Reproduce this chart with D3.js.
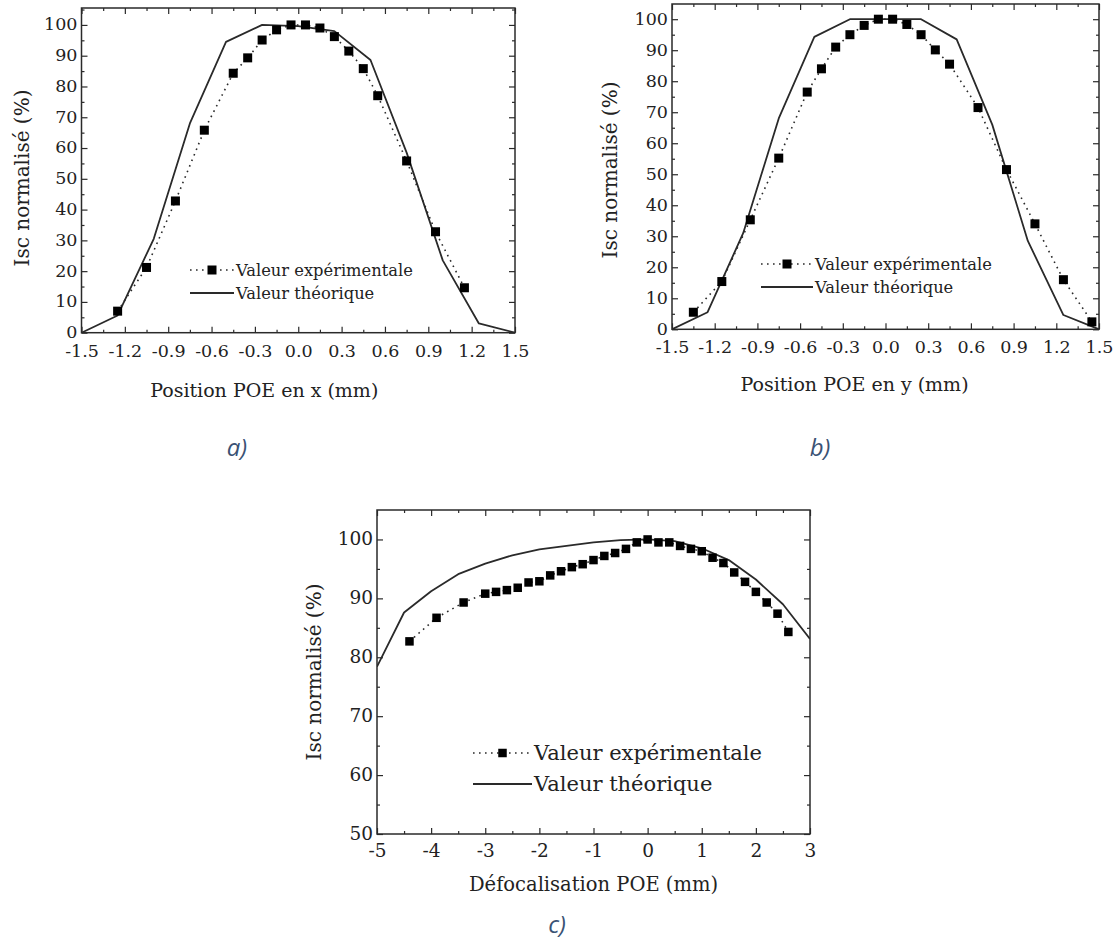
<!DOCTYPE html>
<html>
<head>
<meta charset="utf-8">
<script src="https://cdn.jsdelivr.net/npm/d3@7"></script>
<style>
  body { margin: 0; background: #fff; }
  svg { display: block; }
  text { font-family: "DejaVu Serif", serif; fill: #222; }
</style>
</head>
<body>
<svg id="chart" width="1114" height="949"></svg>
<script>
// ---------- Data ----------
// Panel a) Position POE en x
const aExpX  = [-1.25, -1.05, -0.85, -0.65, -0.45, -0.35, -0.25, -0.15, -0.05, 0.05, 0.15, 0.25, 0.35, 0.45, 0.55, 0.75, 0.95, 1.15];
const aExpY  = [7.0, 21.2, 42.8, 65.8, 84.3, 89.3, 95.1, 98.4, 100, 100, 99.0, 96.2, 91.5, 85.8, 77.0, 55.8, 32.8, 14.6];
const aTheoX = [-1.5, -1.25, -1.0, -0.75, -0.5, -0.25, 0.0, 0.25, 0.5, 0.75, 1.0, 1.25, 1.5];
const aTheoY = [0, 5.6, 30.5, 68.0, 94.5, 100, 99.6, 98.0, 88.6, 58.5, 23.5, 3.0, 0];

// Panel b) Position POE en y
const bExpX  = [-1.35, -1.15, -0.95, -0.75, -0.55, -0.45, -0.35, -0.25, -0.15, -0.05, 0.05, 0.15, 0.25, 0.35, 0.45, 0.65, 0.85, 1.05, 1.25, 1.45];
const bExpY  = [5.5, 15.4, 35.3, 55.2, 76.5, 84.0, 91.0, 95.0, 98.0, 100, 100, 98.3, 95.0, 90.1, 85.5, 71.5, 51.5, 34.0, 16.0, 2.4];
const bTheoX = [-1.5, -1.25, -1.0, -0.75, -0.5, -0.25, 0.0, 0.25, 0.5, 0.75, 1.0, 1.25, 1.5];
const bTheoY = [0, 5.5, 31.0, 68.0, 94.3, 100, 100, 100, 93.5, 66.0, 28.5, 4.6, 0];

// Panel c) Défocalisation POE
const cExpX  = [-4.4, -3.9, -3.4, -3.0, -2.8, -2.6, -2.4, -2.2, -2.0, -1.8, -1.6, -1.4, -1.2, -1.0, -0.8, -0.6, -0.4, -0.2, 0.0, 0.2, 0.4, 0.6, 0.8, 1.0, 1.2, 1.4, 1.6, 1.8, 2.0, 2.2, 2.4, 2.6];
const cExpY  = [82.7, 86.7, 89.3, 90.8, 91.1, 91.4, 91.8, 92.7, 92.9, 93.9, 94.6, 95.3, 95.8, 96.5, 97.2, 97.7, 98.4, 99.5, 100, 99.5, 99.5, 98.9, 98.4, 98.0, 96.9, 96.0, 94.4, 92.8, 91.1, 89.3, 87.4, 84.3];
const cTheoX = [-5.0, -4.5, -4.0, -3.5, -3.0, -2.5, -2.0, -1.5, -1.0, -0.5, 0.0, 0.5, 1.0, 1.5, 2.0, 2.5, 3.0];
const cTheoY = [78.4, 87.6, 91.2, 94.1, 95.9, 97.3, 98.3, 98.9, 99.5, 99.9, 100, 99.7, 98.5, 96.5, 93.2, 89.0, 83.1];

// Tick values and labels
const posXTicks  = [-1.5, -1.2, -0.9, -0.6, -0.3, 0.0, 0.3, 0.6, 0.9, 1.2, 1.5];
const posXLabels = ["-1.5", "-1.2", "-0.9", "-0.6", "-0.3", "0.0", "0.3", "0.6", "0.9", "1.2", "1.5"];
const posYTicks  = [0, 10, 20, 30, 40, 50, 60, 70, 80, 90, 100];
const posYLabels = ["0", "10", "20", "30", "40", "50", "60", "70", "80", "90", "100"];
const cXTicks    = [-5, -4, -3, -2, -1, 0, 1, 2, 3];
const cXLabels   = ["-5", "-4", "-3", "-2", "-1", "0", "1", "2", "3"];
const cYTicks    = [50, 60, 70, 80, 90, 100];
const cYLabels   = ["50", "60", "70", "80", "90", "100"];

const seriesNames = ["Valeur expérimentale", "Valeur théorique"];
const yTitle = "Isc normalisé (%)";

// ---------- Drawing ----------
const svg = d3.select("#chart");
const INK = "#2a2a2a";

function midpoints(arr) {
  const out = [];
  for (let i = 0; i < arr.length - 1; i++) out.push((arr[i] + arr[i + 1]) / 2);
  return out;
}

function panel(o) {
  const x = d3.scaleLinear().domain(o.xDomain).range([o.left, o.right]);
  const y = d3.scaleLinear().domain(o.yDomain).range([o.bottom, o.top]);
  const g = svg.append("g");

  const fs = o.tickFont;
  const xMinor = midpoints(o.xTicks), yMinor = midpoints(o.yTicks);
  if (o.yTicks[o.yTicks.length - 1] + (o.yTicks[1] - o.yTicks[0]) / 2 < o.yDomain[1])
    yMinor.push(o.yTicks[o.yTicks.length - 1] + (o.yTicks[1] - o.yTicks[0]) / 2);

  function styleAxis(sel) {
    sel.selectAll("path").attr("stroke", "none");
    sel.selectAll("line").attr("stroke", INK).attr("stroke-width", 1.2);
    sel.selectAll("text").style("font-family", "DejaVu Serif").style("font-size", fs + "px").attr("fill", "#222");
  }

  // bottom
  g.append("g").attr("transform", `translate(0,${o.bottom})`)
    .call(d3.axisBottom(x).tickValues(o.xTicks).tickSizeInner(-6).tickSizeOuter(0).tickPadding(o.xPad)
      .tickFormat((d, i) => o.xLabels[i])).call(styleAxis);
  g.append("g").attr("transform", `translate(0,${o.bottom})`)
    .call(d3.axisBottom(x).tickValues(xMinor).tickSizeInner(-3).tickSizeOuter(0).tickFormat("")).call(styleAxis);
  // top
  g.append("g").attr("transform", `translate(0,${o.top})`)
    .call(d3.axisTop(x).tickValues(o.xTicks).tickSizeInner(-6).tickSizeOuter(0).tickFormat("")).call(styleAxis);
  g.append("g").attr("transform", `translate(0,${o.top})`)
    .call(d3.axisTop(x).tickValues(xMinor).tickSizeInner(-3).tickSizeOuter(0).tickFormat("")).call(styleAxis);
  // left
  const yl = g.append("g").attr("transform", `translate(${o.left},0)`)
    .call(d3.axisLeft(y).tickValues(o.yTicks).tickSizeInner(-6).tickSizeOuter(0).tickPadding(4)
      .tickFormat((d, i) => o.yLabels[i])).call(styleAxis);
  yl.selectAll("text").attr("dy", "0.28em");
  g.append("g").attr("transform", `translate(${o.left},0)`)
    .call(d3.axisLeft(y).tickValues(yMinor).tickSizeInner(-3).tickSizeOuter(0).tickFormat("")).call(styleAxis);
  // right
  g.append("g").attr("transform", `translate(${o.right},0)`)
    .call(d3.axisRight(y).tickValues(o.yTicks).tickSizeInner(-6).tickSizeOuter(0).tickFormat("")).call(styleAxis);
  g.append("g").attr("transform", `translate(${o.right},0)`)
    .call(d3.axisRight(y).tickValues(yMinor).tickSizeInner(-3).tickSizeOuter(0).tickFormat("")).call(styleAxis);

  // frame
  g.append("rect").attr("x", o.left).attr("y", o.top)
    .attr("width", o.right - o.left).attr("height", o.bottom - o.top)
    .attr("fill", "none").attr("stroke", INK).attr("stroke-width", 1.5);

  const clipId = "clip" + o.id;
  svg.append("clipPath").attr("id", clipId).append("rect")
    .attr("x", o.left).attr("y", o.top).attr("width", o.right - o.left).attr("height", o.bottom - o.top);

  const line = d3.line().x(d => x(d[0])).y(d => y(d[1]));
  const theo = o.theoX.map((v, i) => [v, o.theoY[i]]);
  const exp = o.expX.map((v, i) => [v, o.expY[i]]);

  g.append("path").datum(theo).attr("d", line).attr("clip-path", `url(#${clipId})`)
    .attr("fill", "none").attr("stroke", INK).attr("stroke-width", 1.8).attr("stroke-linejoin", "round");
  g.append("path").datum(exp).attr("d", line)
    .attr("fill", "none").attr("stroke", INK).attr("stroke-width", 1.6)
    .attr("stroke-dasharray", "1.6,4.4").attr("stroke-linecap", "butt");
  const ms = o.marker;
  g.selectAll("rect.m").data(exp).join("rect").attr("class", "m")
    .attr("x", d => x(d[0]) - ms / 2).attr("y", d => y(d[1]) - ms / 2)
    .attr("width", ms).attr("height", ms).attr("fill", "#000");

  // legend
  const L = o.legend;
  const lg = g.append("g");
  lg.append("line").attr("x1", L.x1).attr("x2", L.x2).attr("y1", L.y1).attr("y2", L.y1)
    .attr("stroke", INK).attr("stroke-width", 1.6).attr("stroke-dasharray", "1.6,4.4");
  lg.append("rect").attr("x", (L.x1 + L.x2) / 2 - ms / 2).attr("y", L.y1 - ms / 2)
    .attr("width", ms).attr("height", ms).attr("fill", "#000");
  lg.append("line").attr("x1", L.x1).attr("x2", L.x2).attr("y1", L.y2).attr("y2", L.y2)
    .attr("stroke", INK).attr("stroke-width", 1.8);
  lg.append("text").attr("x", L.x2 + 2).attr("y", L.y1).attr("dy", "0.35em")
    .style("font-size", L.font + "px").text(seriesNames[0]);
  lg.append("text").attr("x", L.x2 + 2).attr("y", L.y2).attr("dy", "0.35em")
    .style("font-size", L.font + "px").text(seriesNames[1]);

  // axis titles
  g.append("text").attr("x", (o.left + o.right) / 2 + (o.xTitleDx || 0)).attr("y", o.xTitleY)
    .attr("text-anchor", "middle").attr("dy", "0.35em").style("font-size", o.titleFont + "px").text(o.xTitle);
  g.append("text").attr("transform", `translate(${o.yTitleX},${o.yTitleY}) rotate(-90)`)
    .attr("text-anchor", "middle").attr("dy", "0.35em").style("font-size", o.yTitleFont + "px").text(yTitle);

  // caption
  g.append("text").attr("x", o.cap[0]).attr("y", o.cap[1]).attr("dy", "0.35em")
    .attr("text-anchor", "middle")
    .style("font-family", "'Open Sans', sans-serif").style("font-style", "italic")
    .style("font-size", "24px").style("fill", "#3a5274").text(o.cap[2]);
}

panel({
  id: "a", left: 81.5, right: 515, top: 8, bottom: 332.7,
  xDomain: [-1.5, 1.5], yDomain: [0, 105.5],
  xTicks: posXTicks, xLabels: posXLabels, yTicks: posYTicks, yLabels: posYLabels,
  expX: aExpX, expY: aExpY, theoX: aTheoX, theoY: aTheoY,
  tickFont: 17.5, xPad: 12, titleFont: 19, yTitleFont: 20, marker: 9,
  legend: { x1: 190, x2: 234, y1: 270, y2: 293, font: 16.3 },
  xTitle: "Position POE en x (mm)", xTitleDx: -34, xTitleY: 390, yTitleX: 22, yTitleY: 178,
  cap: [237, 448, "a)"]
});

panel({
  id: "b", left: 672, right: 1099, top: 4, bottom: 329.3,
  xDomain: [-1.5, 1.5], yDomain: [0, 104.9],
  xTicks: posXTicks, xLabels: posXLabels, yTicks: posYTicks, yLabels: posYLabels,
  expX: bExpX, expY: bExpY, theoX: bTheoX, theoY: bTheoY,
  tickFont: 17.5, xPad: 11, titleFont: 19, yTitleFont: 20, marker: 9,
  legend: { x1: 761, x2: 813, y1: 264, y2: 287, font: 16.3 },
  xTitle: "Position POE en y (mm)", xTitleDx: -31, xTitleY: 384, yTitleX: 610, yTitleY: 170,
  cap: [820, 448, "b)"]
});

panel({
  id: "c", left: 377, right: 810, top: 510, bottom: 834,
  xDomain: [-5, 3], yDomain: [50, 105],
  xTicks: cXTicks, xLabels: cXLabels, yTicks: cYTicks, yLabels: cYLabels,
  expX: cExpX, expY: cExpY, theoX: cTheoX, theoY: cTheoY,
  tickFont: 18.5, xPad: 10, titleFont: 19.5, yTitleFont: 20, marker: 8.5,
  legend: { x1: 473, x2: 532, y1: 753, y2: 784, font: 21 },
  xTitle: "Défocalisation POE (mm)", xTitleY: 884, yTitleX: 314, yTitleY: 672,
  cap: [557, 925, "c)"]
});
</script>
</body>
</html>
